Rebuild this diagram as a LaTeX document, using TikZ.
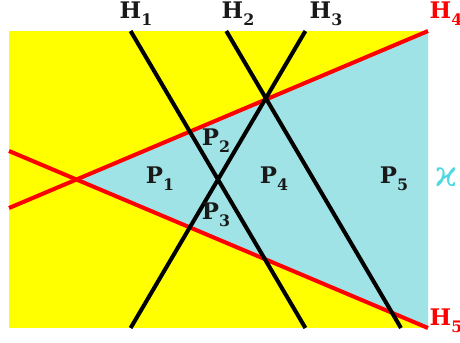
\documentclass[tikz,border=0pt]{standalone}
\usepackage{fontspec}
\setmainfont{DejaVu Serif}
\definecolor{halfspace}{RGB}{255,255,0}
\definecolor{conefill}{HTML}{A0E3E6}
\definecolor{kappacol}{HTML}{4FD8E2}
\newcommand{\lowidx}[1]{\raisebox{-.6ex}{\fontsize{9}{9}\selectfont #1}}

\begin{document}
\begin{tikzpicture}[x=0.02cm, y=-0.02cm,
  every node/.style={inner sep=0pt, font=\bfseries\fontsize{13}{13}\selectfont, text=black!90},
  hyper/.style={line width=2.3pt, black},
  wall/.style={line width=2.3pt, red}]
  \useasboundingbox (0,0) rectangle (460,342);

  % end points of the five hyperplanes, apex of the cone
  \coordinate (apex) at (77,179.5);
  \coordinate (h1a) at (130.6,31);  \coordinate (h1b) at (305.4,328);
  \coordinate (h2a) at (226.3,31);  \coordinate (h2b) at (401,328);
  \coordinate (h3a) at (305.4,31);  \coordinate (h3b) at (130.6,328);
  \coordinate (h4a) at (9,208);     \coordinate (h4b) at (428,31);
  \coordinate (h5a) at (9,151);     \coordinate (h5b) at (428,328);

  \fill[halfspace] (9,31) rectangle (428,328);
  \fill[conefill] (apex) -- (h4b) -- (h5b) -- cycle;

  \draw[wall] (h4a) -- (h4b);
  \draw[wall] (h5a) -- (h5b);
  \draw[hyper] (h1a) -- (h1b);
  \draw[hyper] (h2a) -- (h2b);
  \draw[hyper] (h3a) -- (h3b);

  \node (l1) at (136,14) {H\lowidx{1}};
  \node (l2) at (238,14) {H\lowidx{2}};
  \node (l3) at (326,14) {H\lowidx{3}};
  \node[text=red] (l4) at (446,14) {H\lowidx{4}};
  \node[text=red] (l5) at (446,321) {H\lowidx{5}};
  \node[text=kappacol, font=\fontsize{20}{20}\selectfont] (kap) at (446,177) {ϰ};

  \node (p1) at (160,179) {P\lowidx{1}};
  \node (p2) at (216,141) {P\lowidx{2}};
  \node (p3) at (216,215) {P\lowidx{3}};
  \node (p4) at (274,179) {P\lowidx{4}};
  \node (p5) at (394,179) {P\lowidx{5}};
\end{tikzpicture}
\end{document}
